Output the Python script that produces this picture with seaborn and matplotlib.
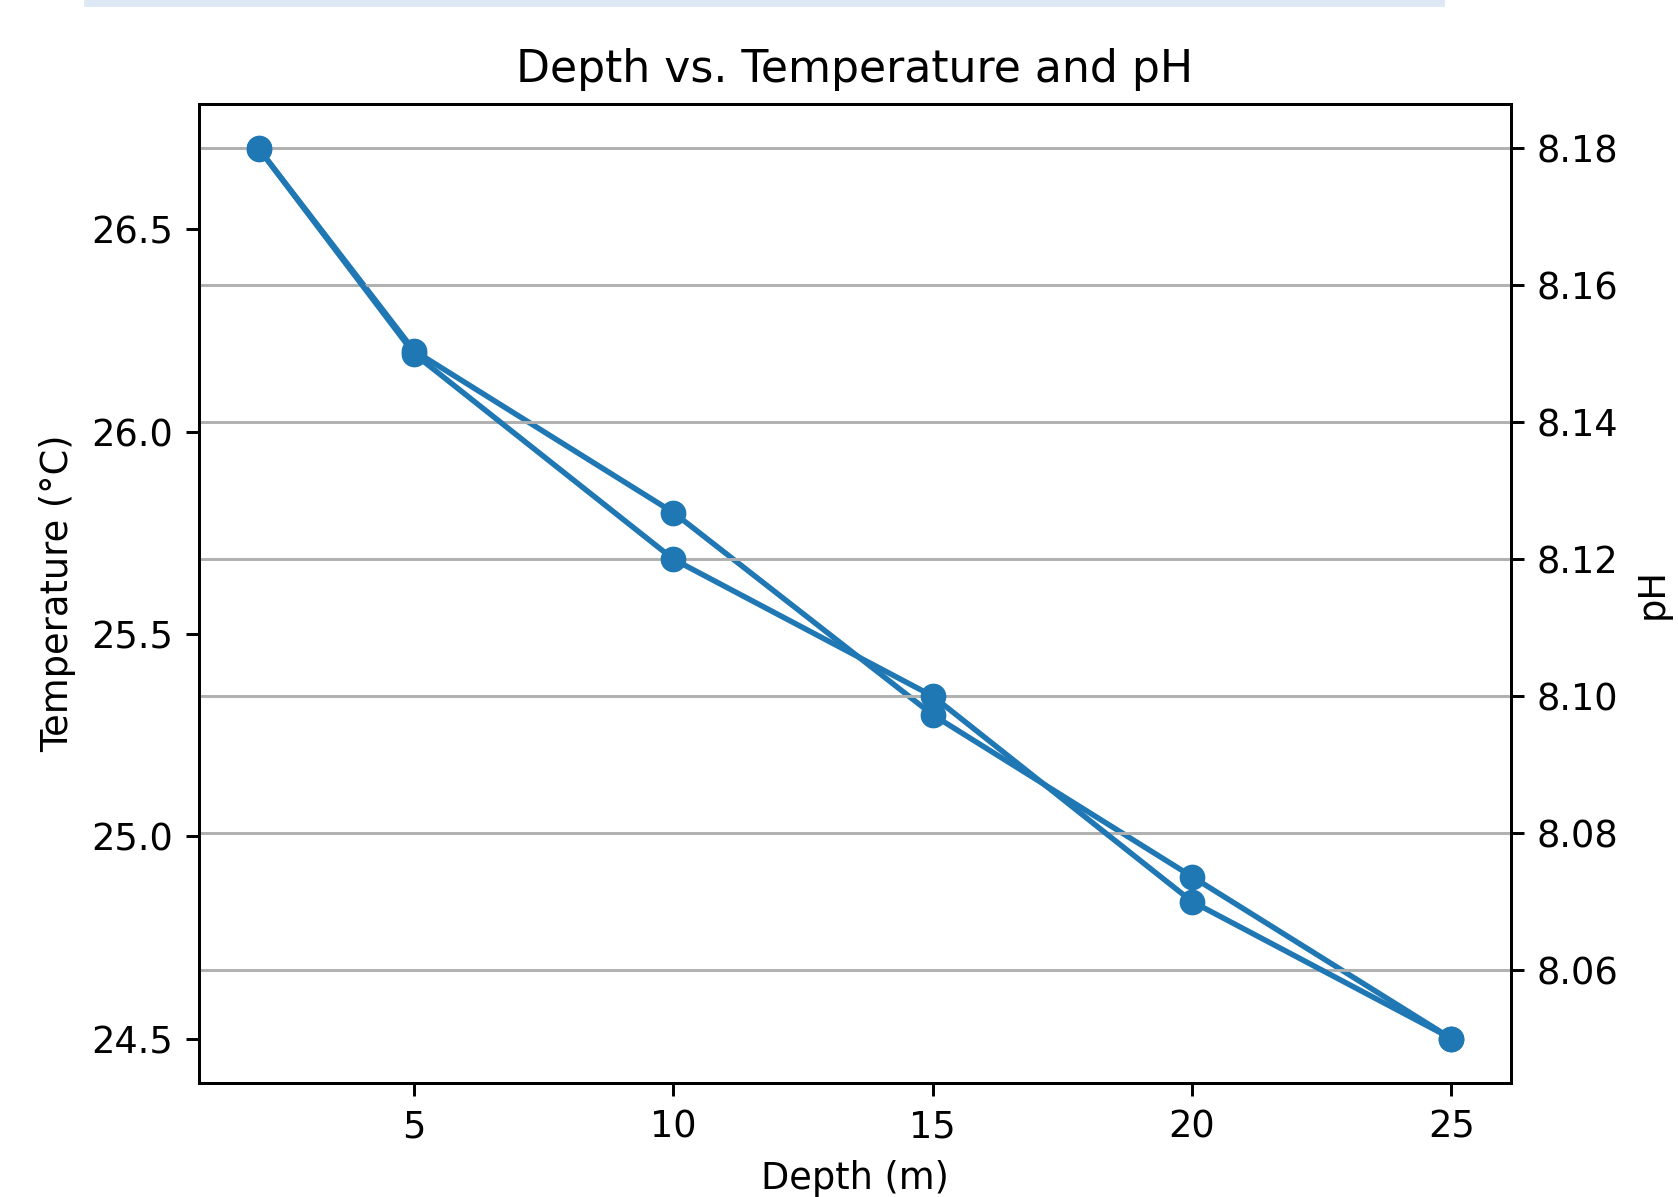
import matplotlib
matplotlib.use('Agg')
import matplotlib.pyplot as plt
import matplotlib.patches as mpatches
import seaborn as sns

depth = [2, 5, 10, 15, 20, 25]
temperature = [26.7, 26.2, 25.8, 25.3, 24.9, 24.5]
ph = [8.18, 8.15, 8.12, 8.10, 8.07, 8.05]

line_color = '#1f77b4'
dpi = 264.5
fig = plt.figure(figsize=(1678 / dpi, 1197 / dpi), dpi=dpi)
ax1 = fig.add_axes([199 / 1678, 114 / 1197, 1312 / 1678, 979 / 1197])

# strip left over from the notebook cell above
fig.patches.append(mpatches.Rectangle((86 / 1678, 1 - 5 / 1197), (1443 - 86) / 1678, 5 / 1197,
                                      transform=fig.transFigure, color='#dce8f4', zorder=0))

line_kws = dict(marker='o', markersize=6, markeredgecolor=line_color, markeredgewidth=1.0,
                color=line_color, linewidth=1.5)
sns.lineplot(x=depth, y=temperature, ax=ax1, **line_kws)
ax1.set_xlabel('Depth (m)')
ax1.set_ylabel('Temperature (°C)')

ax2 = ax1.twinx()
sns.lineplot(x=depth, y=ph, ax=ax2, **line_kws)
ax2.set_ylabel('pH')
ax2.grid(True)

ax1.set_title('Depth vs. Temperature and pH')
plt.savefig('out.png', dpi=dpi)
